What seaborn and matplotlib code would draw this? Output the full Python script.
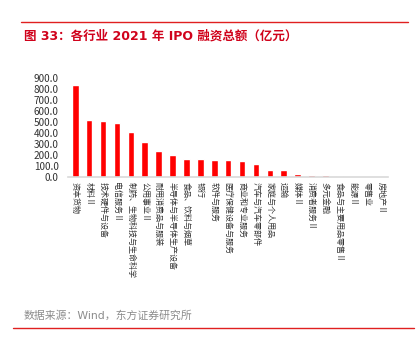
import matplotlib
matplotlib.use("Agg")
import matplotlib.pyplot as plt
import seaborn as sns
import pandas as pd
from matplotlib.lines import Line2D

categories = ["资本货物", "材料Ⅱ", "技术硬件与设备", "电信服务Ⅱ", "制药、生物科技与生命科学",
              "公用事业Ⅱ", "耐用消费品与服装", "半导体与半导体生产设备", "食品、饮料与烟草", "银行",
              "软件与服务", "医疗保健设备与服务", "商业和专业服务", "汽车与汽车零部件", "家庭与个人用品",
              "运输", "媒体Ⅱ", "消费者服务Ⅱ", "多元金融", "食品与主要用品零售Ⅱ",
              "能源Ⅱ", "零售业", "房地产Ⅱ"]
values = [837, 519, 510, 491, 406,
          320, 235, 196, 159, 159,
          152, 149, 146, 116, 64,
          64, 27, 18, 15, 6,
          1.5, 1.0, 0.5]
yticks = [0, 100, 200, 300, 400, 500, 600, 700, 800, 900]

sns.set_theme(style="white")
plt.rcParams['font.family'] = ['Noto Sans CJK SC', 'DejaVu Sans']

W, H = 419, 350
fig = plt.figure(figsize=(W / 100, H / 100), dpi=100)
ax = fig.add_axes([68.3 / W, 1 - 176.7 / H, (388 - 68.3) / W, (176.7 - 78.3) / H])

df = pd.DataFrame({"cat": categories, "val": values})
sns.barplot(data=df, x="cat", y="val", color="#FF0000", saturation=1, width=0.48, ax=ax)

ax.set_ylim(0, 900)
ax.set_xlim(-0.5, len(categories) - 0.5)
ax.set_yticks(yticks)
ax.set_yticklabels([f"{v:.1f}" for v in yticks], fontsize=7.2, color="#333333")
ax.set_xticks(range(len(categories)))
ax.set_xticklabels(categories, rotation=-90, ha="center", va="top", fontsize=5.8, color="#333333")
ax.tick_params(axis="x", length=0, pad=4)
ax.tick_params(axis="y", length=0, pad=7)
ax.set_xlabel("")
ax.set_ylabel("")
for s in ["top", "right", "left"]:
    ax.spines[s].set_visible(False)
ax.spines["bottom"].set_color("#D9D9D9")
ax.spines["bottom"].set_linewidth(1.2)

fam = ['DejaVu Sans', 'Noto Sans CJK SC']

# header
fig.add_artist(Line2D([21 / W, 408 / W], [1 - 22.3 / H, 1 - 22.3 / H], color="#E02020", lw=1.0))
fig.text(23.5 / W, 1 - 39.3 / H, "图 33：各行业 2021 年 IPO 融资总额（亿元）", color="#D0021B",
         fontsize=9, fontweight="bold", ha="left", va="baseline", family=fam)

# footer
fig.text(24 / W, 1 - 319.3 / H, "数据来源：Wind，东方证券研究所", color="#8C8C8C",
         fontsize=7.8, ha="left", va="baseline", family=fam)
fig.add_artist(Line2D([13 / W, 414 / W], [1 - 328.3 / H, 1 - 328.3 / H], color="#E02020", lw=1.0))

fig.savefig("out.png", dpi=100)
